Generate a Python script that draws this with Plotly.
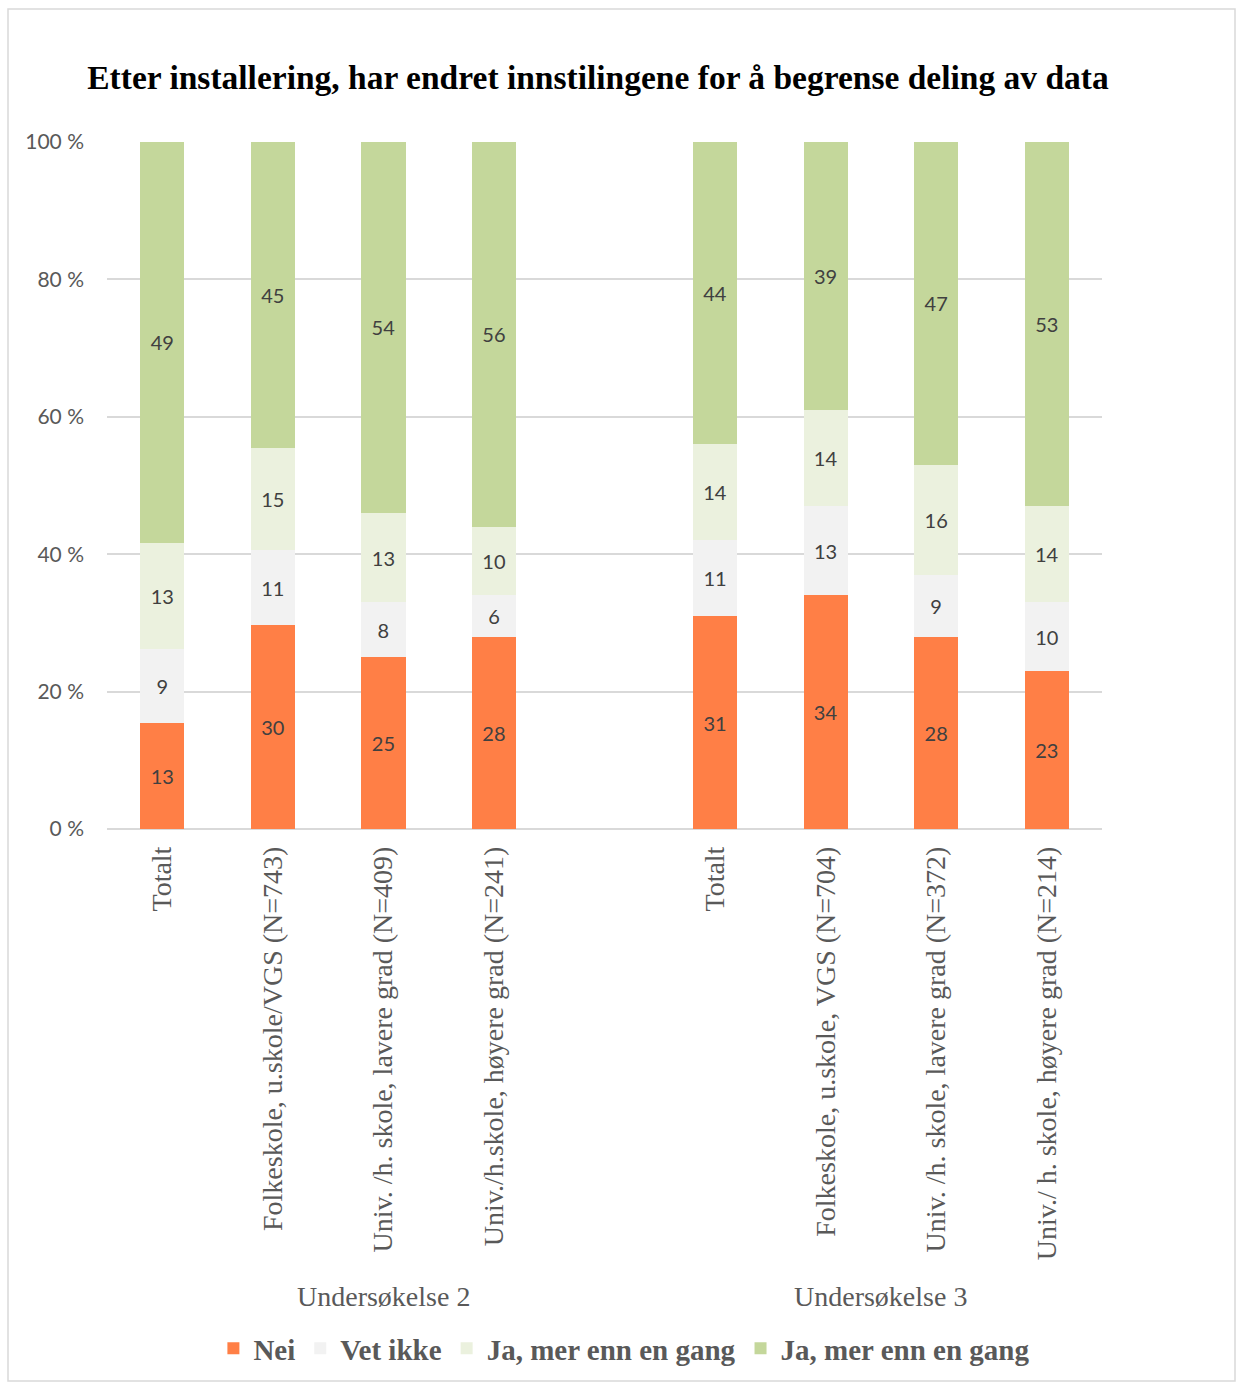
import plotly.graph_objects as go

# ---- data ----
category_ids = ["u2_tot", "u2_folk", "u2_lav", "u2_hoy", "gap", "u3_tot", "u3_folk", "u3_lav", "u3_hoy"]
tick_labels = ["Totalt", "Folkeskole, u.skole/VGS (N=743)", "Univ. /h. skole, lavere grad (N=409)",
               "Univ./h.skole, høyere grad (N=241)", "", "Totalt", "Folkeskole, u.skole, VGS (N=704)",
               "Univ. /h. skole, lavere grad (N=372)", "Univ./ h. skole, høyere grad (N=214)"]
bar_ids = ["u2_tot", "u2_folk", "u2_lav", "u2_hoy", "u3_tot", "u3_folk", "u3_lav", "u3_hoy"]
group_labels = ["Undersøkelse 2", "Undersøkelse 3"]
y_tick_values = [0, 20, 40, 60, 80, 100]
y_tick_labels = ["0 %", "20 %", "40 %", "60 %", "80 %", "100 %"]

nei = [13, 30, 25, 28, 31, 34, 28, 23]
vet_ikke = [9, 11, 8, 6, 11, 13, 9, 10]
ja_light = [13, 15, 13, 10, 14, 14, 16, 14]
ja_dark = [49, 45, 54, 56, 44, 39, 47, 53]

series_names = ["Nei", "Vet ikke", "Ja, mer enn en gang", "Ja, mer enn en gang"]
series_values = [nei, vet_ikke, ja_light, ja_dark]
series_colors = ["#FF7F46", "#F2F2F2", "#EBF1DE", "#C4D79B"]

SERIF = "Liberation Serif, Times New Roman, serif"
SANS = "Lato, Liberation Sans, sans-serif"

fig = go.Figure()
for name, vals, col in zip(series_names, series_values, series_colors):
    fig.add_trace(go.Bar(
        x=bar_ids, y=vals, name=name, marker=dict(color=col, line=dict(width=0)),
        text=[str(v) for v in vals], textposition="inside", insidetextanchor="middle",
        textangle=0, textfont=dict(family=SANS, size=20, color="#404040"),
        width=0.4, hoverinfo="skip",
    ))

fig.update_layout(
    barmode="stack", barnorm="percent",
    width=1237, height=1383,
    margin=dict(l=107, r=135, t=142, b=554, autoexpand=False),
    paper_bgcolor="white", plot_bgcolor="white",
    title=dict(text="<b>Etter installering, har endret innstilingene for å begrense deling av data</b>",
               x=598 / 1237, xanchor="center", y=1 - 77 / 1383, yanchor="middle", yref="container",
               font=dict(family=SERIF, size=33.5, color="black")),
    showlegend=True,
    legend=dict(orientation="h", x=0.52, xanchor="center", y=-0.756, yanchor="middle",
                font=dict(family=SERIF, size=29, color="#595959", weight="bold"),
                traceorder="normal", itemwidth=30, bgcolor="rgba(0,0,0,0)"),
)

fig.update_xaxes(type="category", categoryorder="array", categoryarray=category_ids,
                 tickmode="array", tickvals=category_ids, ticktext=tick_labels,
                 tickangle=-90, ticklabelstandoff=11, showgrid=False, showline=False, zeroline=False,
                 automargin=False,
                 tickfont=dict(family=SERIF, size=28, color="#595959"))
fig.update_yaxes(range=[0, 100], tickmode="array", tickvals=y_tick_values, ticktext=y_tick_labels,
                 showgrid=True, gridcolor="#D9D9D9", gridwidth=1.5, zeroline=True, zerolinecolor="#D9D9D9",
                 zerolinewidth=1.5, showline=False, ticklabelstandoff=22, automargin=False,
                 tickfont=dict(family=SANS, size=21, color="#595959"))

# group labels
fig.add_annotation(x=2, y=-0.706, xref="x", yref="paper", text=group_labels[0], showarrow=False,
                   font=dict(family=SERIF, size=28, color="#595959"))
fig.add_annotation(x=6.5, y=-0.706, xref="x", yref="paper", text=group_labels[1], showarrow=False,
                   font=dict(family=SERIF, size=28, color="#595959"))

# outer border
fig.add_shape(type="rect", xref="paper", yref="paper",
              x0=(8 - 107) / 995, x1=(1235 - 107) / 995, y0=(829 - 1381) / 687, y1=(829 - 9) / 687,
              line=dict(color="#D9D9D9", width=1.5), fillcolor="rgba(0,0,0,0)", layer="below")

fig.write_html("out.html", config={"displayModeBar": False},
               post_script="document.body.style.margin='0';document.body.style.padding='0';")
